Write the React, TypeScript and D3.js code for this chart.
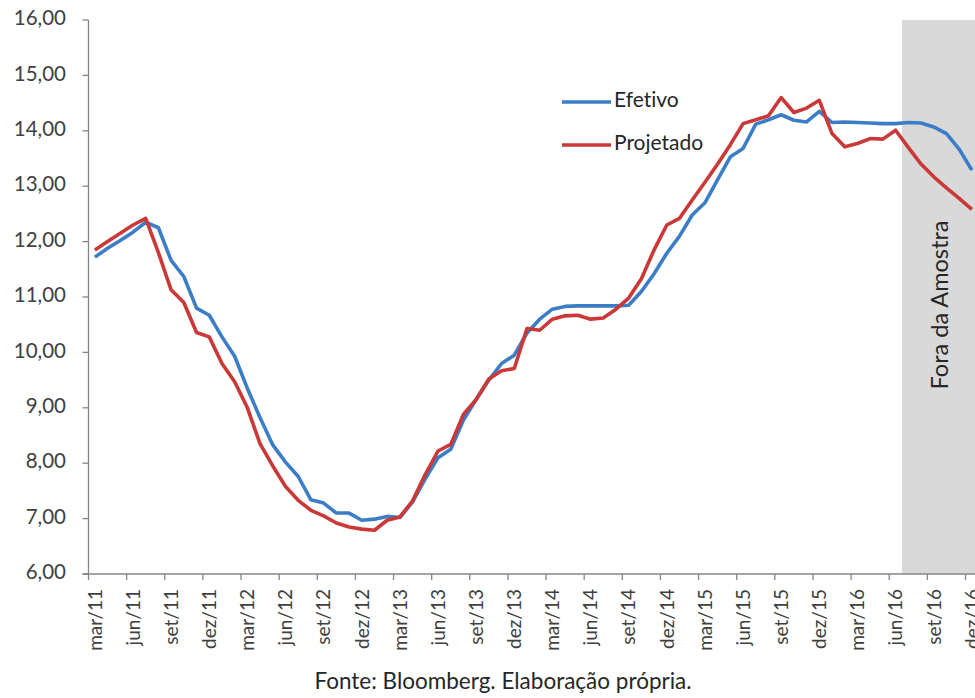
import React from "react";
import * as d3 from "d3";

const meses = [
  "mar/11", "abr/11", "mai/11", "jun/11", "jul/11", "ago/11", "set/11", "out/11", "nov/11", "dez/11",
  "jan/12", "fev/12", "mar/12", "abr/12", "mai/12", "jun/12", "jul/12", "ago/12", "set/12", "out/12", "nov/12", "dez/12",
  "jan/13", "fev/13", "mar/13", "abr/13", "mai/13", "jun/13", "jul/13", "ago/13", "set/13", "out/13", "nov/13", "dez/13",
  "jan/14", "fev/14", "mar/14", "abr/14", "mai/14", "jun/14", "jul/14", "ago/14", "set/14", "out/14", "nov/14", "dez/14",
  "jan/15", "fev/15", "mar/15", "abr/15", "mai/15", "jun/15", "jul/15", "ago/15", "set/15", "out/15", "nov/15", "dez/15",
  "jan/16", "fev/16", "mar/16", "abr/16", "mai/16", "jun/16", "jul/16", "ago/16", "set/16", "out/16", "nov/16", "dez/16",
];

const efetivo = [
  11.72, 11.88, 12.02, 12.17, 12.35, 12.25, 11.66, 11.37, 10.8, 10.67,
  10.28, 9.93, 9.35, 8.82, 8.33, 8.02, 7.76, 7.34, 7.28, 7.1,
  7.1, 6.97, 6.99, 7.04, 7.02, 7.3, 7.72, 8.1, 8.25, 8.78,
  9.15, 9.5, 9.8, 9.95, 10.35, 10.6, 10.78, 10.83, 10.84, 10.84,
  10.84, 10.84, 10.85, 11.1, 11.42, 11.79, 12.1, 12.48, 12.7, 13.12,
  13.53, 13.68, 14.12, 14.2, 14.29, 14.19, 14.16, 14.35, 14.15, 14.16,
  14.15, 14.14, 14.13, 14.13, 14.15, 14.14, 14.07, 13.95, 13.67, 13.29,
];

const projetado = [
  11.85, 12.0, 12.15, 12.3, 12.42, 11.8, 11.13, 10.9, 10.36, 10.28,
  9.8, 9.47, 9.0, 8.35, 7.95, 7.58, 7.33, 7.15, 7.05, 6.92,
  6.85, 6.81, 6.79, 6.97, 7.03, 7.32, 7.8, 8.22, 8.34, 8.88,
  9.15, 9.52, 9.67, 9.71, 10.43, 10.4, 10.6, 10.66, 10.67, 10.6,
  10.62, 10.78, 10.98, 11.33, 11.85, 12.3, 12.42, 12.75, 13.07, 13.4,
  13.75, 14.13, 14.2, 14.27, 14.6, 14.33, 14.41, 14.55, 13.95, 13.71,
  13.77, 13.86, 13.85, 14.01, 13.7, 13.4, 13.17, 12.97, 12.78, 12.58,
];

const yTicks = [6, 7, 8, 9, 10, 11, 12, 13, 14, 15, 16];
const inicioForaAmostra = "jul/16";

const series = [
  { nome: "Efetivo", valores: efetivo, cor: "#3B7DC6" },
  { nome: "Projetado", valores: projetado, cor: "#CA3838" },
];

const FONT = "Lato, 'Open Sans', sans-serif";

export default function App() {
  const width = 975;
  const height = 698;
  const left = 88.5;
  const top = 20;
  const bottom = 574;
  const right = left + meses.length * 12.71;

  const x = d3.scaleBand<string>().domain(meses).range([left, right]).padding(0);
  const y = d3.scaleLinear().domain([6, 16]).range([bottom, top]);
  const cx = (m: string) => (x(m) as number) + x.bandwidth() / 2;

  const line = d3
    .line<number>()
    .x((_, i) => cx(meses[i]))
    .y((d) => y(d));

  const fmt = (v: number) => v.toFixed(2).replace(".", ",");
  const shadeX = x(inicioForaAmostra) as number;
  const labelMeses = meses.filter((_, i) => i % 3 === 0);

  return (
    <svg
      width={width}
      height={height}
      style={{ position: "absolute", left: 0, top: 0, background: "#fff", fontVariantLigatures: "none" }}
      fontFamily={FONT}
    >
      <rect x={0} y={0} width={width} height={height} fill="#fff" />
      <rect x={shadeX} y={top} width={right - shadeX} height={bottom - top} fill="#D9D9D9" />
      <text
        transform={`translate(${shadeX + 40},${305}) rotate(-90)`}
        textAnchor="middle"
        dominantBaseline="middle"
        fontSize={23.5}
        fill="#262626"
      >
        Fora da Amostra
      </text>

      {/* eixo y */}
      <line x1={left} x2={left} y1={top} y2={bottom} stroke="#868686" strokeWidth={1.3} />
      {yTicks.map((t) => (
        <g key={t}>
          <line x1={left - 6} x2={left} y1={y(t)} y2={y(t)} stroke="#868686" strokeWidth={1.3} />
          <text x={66} y={y(t)} textAnchor="end" dominantBaseline="middle" fontSize={20.5} fill="#404040">
            {fmt(t)}
          </text>
        </g>
      ))}

      {/* eixo x */}
      <line x1={left - 6} x2={right} y1={bottom} y2={bottom} stroke="#868686" strokeWidth={1.3} />
      {labelMeses.map((m) => (
        <g key={m}>
          <line x1={x(m)} x2={x(m)} y1={bottom} y2={bottom + 6} stroke="#868686" strokeWidth={1.3} />
          <text
            transform={`translate(${cx(m) + 2},${589}) rotate(-90)`}
            textAnchor="end"
            dominantBaseline="middle"
            fontSize={19}
            fill="#404040"
          >
            {m}
          </text>
        </g>
      ))}

      {series.map((s) => (
        <path
          key={s.nome}
          d={line(s.valores) || ""}
          fill="none"
          stroke={s.cor}
          strokeWidth={3.6}
          strokeLinejoin="round"
        />
      ))}

      {/* legenda */}
      {series.map((s, i) => (
        <g key={s.nome} transform={`translate(562,${102 + i * 43})`}>
          <line x1={0} x2={49} y1={0} y2={0} stroke={s.cor} strokeWidth={3.6} />
          <text x={52} y={0} dominantBaseline="middle" fontSize={21} fill="#262626">
            {s.nome}
          </text>
        </g>
      ))}

      <text x={503} y={683} textAnchor="middle" dominantBaseline="middle" fontSize={22.5} fill="#262626">
        Fonte: Bloomberg. Elaboração própria.
      </text>
    </svg>
  );
}
